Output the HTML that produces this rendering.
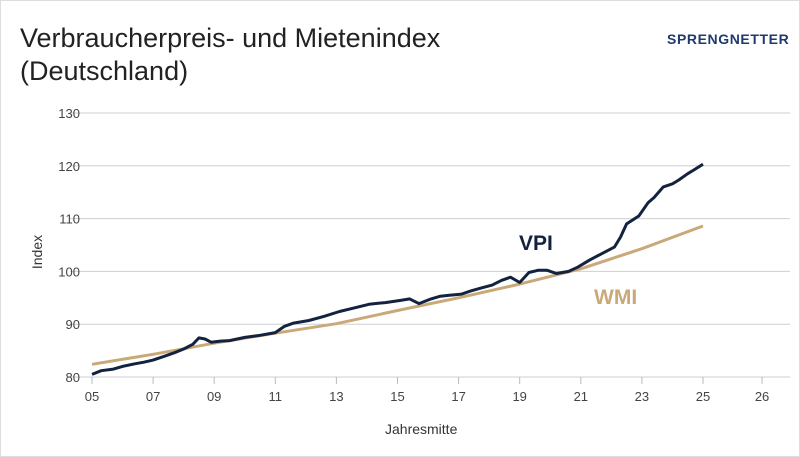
<!DOCTYPE html>
<html><head><meta charset="utf-8"><style>
body{margin:0;background:#fff;font-family:"Liberation Sans",sans-serif;}
#wrap{position:relative;width:800px;height:457px;overflow:hidden;}
</style></head><body>
<div id="wrap">
<svg width="800" height="457" id="svg">
<rect x="0.5" y="0.5" width="799" height="456" fill="#fff" stroke="#ddd"/>
<text x="20" y="47" font-size="27" fill="#222">Verbraucherpreis- und Mietenindex</text>
<text x="20" y="80" font-size="27" fill="#222">(Deutschland)</text>
<text x="667" y="44" font-size="14" font-weight="bold" fill="#1f3a6e" letter-spacing="0.6">SPRENGNETTER</text>
<g id="grid"></g>
<g id="axes"></g>
<g id="series"></g>
<text x="385" y="434" font-size="14" fill="#333">Jahresmitte</text>
<text transform="translate(42,252) rotate(-90)" font-size="14" fill="#333" text-anchor="middle">Index</text>
<text x="519" y="250" font-size="21" font-weight="bold" fill="#13233f">VPI</text>
<text x="594" y="304" font-size="21" font-weight="bold" fill="#c9a978">WMI</text>
</svg></div>
<script>
const yTicks=[80,90,100,110,120,130];
const xTickYears=[2005,2007,2009,2011,2013,2015,2017,2019,2021,2023,2025,2026];
const xTickLabels=["05","07","09","11","13","15","17","19","21","23","25","26"];
const vpiYears=[2005,2005.3,2005.7,2006,2006.4,2006.7,2007,2007.4,2007.7,2008,2008.3,2008.5,2008.7,2008.9,2009.2,2009.5,2010,2010.5,2011,2011.3,2011.6,2012.1,2012.6,2013.1,2013.6,2014.1,2014.6,2015.1,2015.4,2015.7,2016.1,2016.4,2016.7,2017.1,2017.4,2017.7,2018.1,2018.4,2018.7,2019.0,2019.3,2019.6,2019.9,2020.2,2020.6,2020.9,2021.3,2021.7,2022.1,2022.3,2022.5,2022.9,2023.2,2023.4,2023.7,2024.0,2024.2,2024.5,2024.7,2025.0];
const vpiValues=[80.5,81.2,81.5,82.0,82.5,82.8,83.2,84.0,84.6,85.3,86.2,87.4,87.2,86.6,86.8,86.9,87.5,87.9,88.4,89.6,90.2,90.7,91.5,92.4,93.1,93.8,94.1,94.5,94.8,93.9,94.8,95.3,95.5,95.7,96.3,96.8,97.4,98.3,98.9,97.9,99.8,100.2,100.2,99.6,100.0,100.8,102.2,103.4,104.6,106.5,109.0,110.5,113.0,114.0,116.0,116.6,117.3,118.5,119.2,120.3];
const wmiYears=[2005,2007,2009,2011,2013,2015,2017,2019,2021,2023,2025];
const wmiValues=[82.4,84.3,86.4,88.3,90.1,92.6,95.0,97.6,100.5,104.3,108.6];
const NS="http://www.w3.org/2000/svg";
function xs(y){return 92+(y-2005)*30.55+(y>2025?(y-2025)*28.5:0);}
function ys(v){return 377-(v-80)*5.28;}
function mk(t,a,p){const e=document.createElementNS(NS,t);for(const k in a)e.setAttribute(k,a[k]);p.appendChild(e);return e;}
const grid=document.getElementById('grid'),axes=document.getElementById('axes'),ser=document.getElementById('series');
yTicks.forEach(v=>{
 const l=mk('line',{x1:70,x2:790,y1:ys(v),y2:ys(v),stroke:'#cfcfcf','stroke-width':1},grid);
 
 
 const t=mk('text',{x:80,y:ys(v)+5,'font-size':13,fill:'#444','text-anchor':'end'},axes);
 t.textContent=v;
 
 
});
xTickYears.forEach((y,i)=>{
 const l=mk('line',{x1:xs(y),x2:xs(y),y1:377,y2:384,stroke:'#bbb','stroke-width':1},axes);
 
 
 const t=mk('text',{x:xs(y),y:401,'font-size':13,fill:'#444','text-anchor':'middle'},axes);
 t.textContent=xTickLabels[i];
 
 
});
function pts(xa,va){return xa.map((x,i)=>xs(x).toFixed(1)+','+ys(va[i]).toFixed(1)).join(' ');}
const w=mk('polyline',{points:pts(wmiYears,wmiValues),fill:'none',stroke:'#c9a978','stroke-width':3,'stroke-linejoin':'round'},ser);


const v=mk('polyline',{points:pts(vpiYears,vpiValues),fill:'none',stroke:'#13233f','stroke-width':3,'stroke-linejoin':'round'},ser);


</script>
</body></html>
